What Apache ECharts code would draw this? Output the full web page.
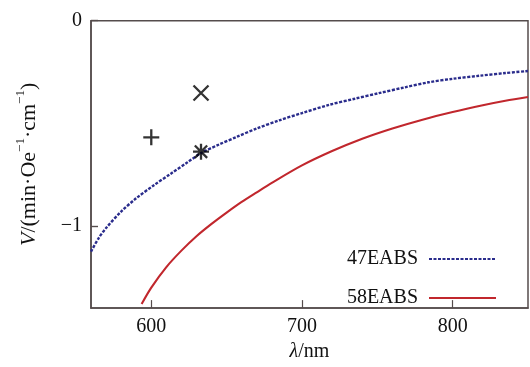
<!DOCTYPE html>
<html>
<head>
<meta charset="utf-8">
<script src="https://cdn.jsdelivr.net/npm/echarts@6/dist/echarts.min.js"></script>
<style>html,body{margin:0;padding:0;background:#fff}#c{width:530px;height:367px}</style>
</head>
<body>
<div id="c"></div>
<script>
// wavelength (nm) and V values
const blue47 = [[560,-1.125],[565,-1.06],[570,-1.01],[580,-0.93],[590,-0.865],[602,-0.80],[613,-0.745],[624,-0.69],[633,-0.645],[645,-0.603],[657,-0.565],[670,-0.525],[685,-0.485],[700,-0.45],[718,-0.41],[735,-0.38],[751,-0.353],[768,-0.325],[784,-0.30],[800,-0.283],[818,-0.268],[835,-0.255],[850,-0.245]];
const red58 = [[593.6,-1.38],[600,-1.30],[610,-1.20],[620,-1.12],[630,-1.05],[640,-0.99],[650,-0.935],[660,-0.883],[670,-0.836],[680,-0.79],[700,-0.705],[720,-0.635],[740,-0.575],[760,-0.525],[780,-0.482],[800,-0.445],[820,-0.412],[835,-0.39],[850,-0.372]];
const plusPts = [[600,-0.568]];
const crossPts = [[633,-0.352]];
const starPts = [[633,-0.638]];
const seriesNames = ['47EABS','58EABS'];

const FONT = '"Liberation Serif","Times New Roman",serif';
const FRAME = '#554c4c';
const chart = echarts.init(document.getElementById('c'), null, {renderer:'canvas'});
const markStyle = {color:'transparent', borderColor:'#000', borderWidth:2.3};
chart.setOption({
  animation:false,
  backgroundColor:'#fff',
  grid:{left:91, right:2, top:20.7, bottom:55.3, show:true, borderColor:FRAME, borderWidth:1.5, backgroundColor:'transparent'},
  legend:{
    data:seriesNames, orient:'vertical', align:'right', right:33, top:249,
    itemWidth:67, itemHeight:14, itemGap:19, padding:0,
    itemStyle:{opacity:0},
    textStyle:{fontFamily:FONT, fontSize:20, color:'#111', padding:[0,6,0,0]}
  },
  xAxis:{
    type:'value', min:560, max:850, splitNumber:3, minInterval:100, maxInterval:100,
    name:'{i|λ}/nm', nameLocation:'middle', nameGap:26,
    nameTextStyle:{fontFamily:FONT, fontSize:20, color:'#111', rich:{i:{fontFamily:FONT, fontSize:20, fontStyle:'italic', color:'#111'}}},
    axisLine:{show:true, onZero:false, lineStyle:{color:FRAME, width:1.5}},
    axisTick:{show:true, inside:true, length:8, lineStyle:{color:FRAME, width:1.2}},
    axisLabel:{fontFamily:FONT, fontSize:20, color:'#111', margin:9, showMinLabel:false, showMaxLabel:false},
    splitLine:{show:false}
  },
  yAxis:{
    type:'value', min:-1.4, max:0, splitNumber:1, minInterval:1, maxInterval:1,
    name:'{i|V}{n|/(min·Oe}{s|−1}{n|·cm}{s|−1}{n|)}', nameLocation:'middle', nameGap:51, nameRotate:90,
    nameTextStyle:{fontFamily:FONT, fontSize:22, color:'#111', rich:{
      i:{fontFamily:FONT, fontSize:22, fontStyle:'italic', color:'#111', lineHeight:26, verticalAlign:'bottom'},
      n:{fontFamily:FONT, fontSize:22, color:'#111', lineHeight:26, verticalAlign:'bottom'},
      s:{fontFamily:FONT, fontSize:13, color:'#111', verticalAlign:'top', lineHeight:13}
    }},
    axisLine:{show:true, onZero:false, lineStyle:{color:FRAME, width:1.5}},
    axisTick:{show:true, inside:true, length:7, lineStyle:{color:FRAME, width:1.4}},
    axisLabel:{fontFamily:FONT, fontSize:20, color:'#111', margin:9, showMinLabel:false,
      formatter:v => String(v).replace('-', '−')},
    splitLine:{show:false}
  },
  series:[
    {name:seriesNames[0], type:'line', data:blue47, symbol:'none', smooth:0.3,
     lineStyle:{color:'#2a2c8c', width:2.4, type:[3,1.5]}, itemStyle:{color:'#2a2c8c'}, z:3},
    {name:seriesNames[1], type:'line', data:red58, symbol:'none', smooth:0.3,
     lineStyle:{color:'#c1272d', width:2.1}, itemStyle:{color:'#c1272d'}, z:3},
    {name:'plus', type:'scatter', data:plusPts, symbol:'path://M0,-1L0,1M-1,0L1,0', symbolSize:16, itemStyle:markStyle, z:5},
    {name:'cross', type:'scatter', data:crossPts, symbol:'path://M-1,-1L1,1M-1,1L1,-1', symbolSize:15, itemStyle:markStyle, z:5},
    {name:'star', type:'scatter', data:starPts, symbol:'path://M-1,-1L1,1M-1,1L1,-1M0,-1.3L0,1.3M-1.3,0L1.3,0', symbolSize:16, itemStyle:markStyle, z:5}
  ]
});
</script>
</body>
</html>
